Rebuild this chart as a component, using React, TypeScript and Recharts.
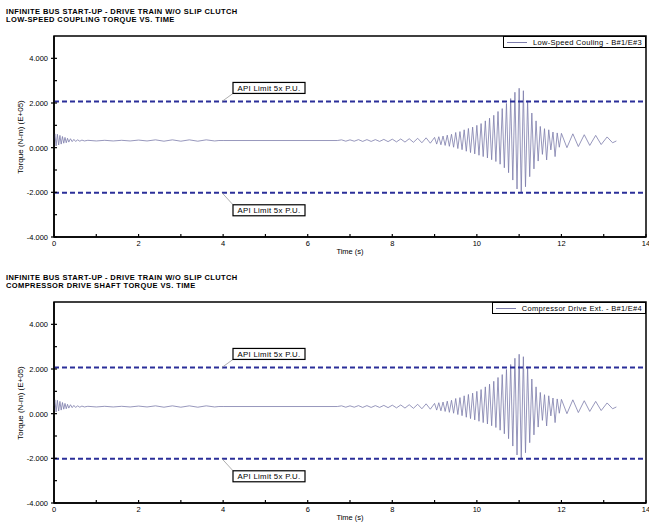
import React from "react";
import { Line, LineChart, ReferenceArea, ReferenceLine, XAxis, YAxis } from "recharts";

type Pt = [number, number];

// torque in E+05 N-m against time in s
const startUp: Pt[] = [
  [0, 0.35], [0.02, 0.62], [0.05, 0.08], [0.08, 0.6], [0.11, 0.12], [0.14, 0.55],
  [0.17, 0.16], [0.2, 0.5], [0.23, 0.2], [0.26, 0.46], [0.29, 0.22], [0.32, 0.42],
  [0.35, 0.25], [0.39, 0.4], [0.43, 0.27], [0.47, 0.37], [0.51, 0.28], [0.56, 0.35],
  [0.61, 0.29], [0.66, 0.34], [0.72, 0.3],
];

const firstRipple: Pt[] = [
  [0.8, 0.33], [1.0, 0.3], [1.2, 0.33], [1.4, 0.3], [1.6, 0.33], [1.8, 0.3],
  [2.0, 0.34], [2.2, 0.3], [2.4, 0.35], [2.6, 0.29], [2.8, 0.35], [3.0, 0.29],
  [3.2, 0.35], [3.4, 0.29], [3.6, 0.35], [3.8, 0.3], [3.9, 0.32],
];

const flatRun: Pt[] = [[4.0, 0.32], [6.7, 0.32]];

const secondRipple: Pt[] = [
  [6.8, 0.35], [6.9, 0.29], [7.0, 0.35], [7.1, 0.29], [7.2, 0.36], [7.3, 0.28],
  [7.4, 0.36], [7.5, 0.28], [7.6, 0.36], [7.7, 0.28], [7.8, 0.37], [7.9, 0.27],
  [8.0, 0.38], [8.1, 0.26], [8.2, 0.39], [8.3, 0.25], [8.4, 0.4], [8.5, 0.24],
  [8.6, 0.42], [8.7, 0.22], [8.8, 0.44], [8.9, 0.2],
];

const burst: Pt[] = [
  [9.0, 0.46], [9.05, 0.16], [9.1, 0.49], [9.15, 0.13], [9.2, 0.52], [9.25, 0.1],
  [9.3, 0.56], [9.35, 0.06], [9.4, 0.6], [9.45, 0.02], [9.5, 0.68], [9.55, -0.04],
  [9.6, 0.72], [9.65, -0.09], [9.7, 0.8], [9.75, -0.16], [9.8, 0.86], [9.85, -0.22],
  [9.9, 0.92], [9.95, -0.28], [10.0, 1.0], [10.05, -0.34], [10.1, 1.08], [10.15, -0.4],
  [10.2, 1.2], [10.25, -0.46], [10.3, 1.32], [10.35, -0.54], [10.4, 1.45], [10.45, -0.62],
  [10.5, 1.62], [10.55, -0.74], [10.6, 1.75], [10.65, -0.9], [10.7, 1.98], [10.75, -1.12],
  [10.8, 2.2], [10.85, -1.45], [10.9, 2.48], [10.95, -1.85], [11.0, 2.66], [11.05, -2.02],
  [11.1, 2.55], [11.15, -1.75], [11.2, 2.1], [11.25, -1.3], [11.3, 1.55], [11.35, -0.95],
  [11.4, 1.2], [11.45, -0.6], [11.5, 0.95], [11.55, -0.3], [11.6, 0.85], [11.65, -0.55],
  [11.7, 0.8], [11.75, -0.1], [11.8, 0.7], [11.85, -0.4], [11.9, 0.66], [11.95, 0.02],
  [12.0, 0.64],
];

const tail: Pt[] = [
  [12.13, 0.0], [12.27, 0.62], [12.4, 0.05], [12.54, 0.58], [12.67, 0.1],
  [12.81, 0.55], [12.94, 0.14], [13.08, 0.48], [13.21, 0.22], [13.3, 0.3],
];

const xTicks = [0, 1, 2, 3, 4, 5, 6, 7, 8, 9, 10, 11, 12, 13, 14];
const yTicks = [-4, -3, -2, -1, 0, 1, 2, 3, 4];
const apiUpper = 2.07;
const apiLower = -2.02;

const title = "INFINITE BUS START-UP - DRIVE TRAIN W/O SLIP CLUTCH";
const panels = [
  { subtitle: "LOW-SPEED COUPLING TORQUE VS. TIME", legend: "Low-Speed Couling - B#1/E#3" },
  { subtitle: "COMPRESSOR DRIVE SHAFT TORQUE VS. TIME", legend: "Compressor Drive Ext. - B#1/E#4" },
];

// both traces look the same at this resolution
const trace = [...startUp, ...firstRipple, ...flatRun, ...secondRipple, ...burst, ...tail].map(
  ([t, v]) => ({ t, v })
);

const FONT = "'Liberation Sans', Arial, sans-serif";
const W = 649;
const H = 266;
const LEFT = 54;
const TOP = 36;
const BOTTOM = 237;
const TRACE = "#7c7cab";
const API = "#2b2f99";

const YTick = (props: any) => {
  const { y, payload } = props;
  const major = payload.value % 2 === 0;
  return (
    <g>
      <line x1={major ? LEFT - 3 : LEFT} x2={LEFT + 3} y1={y} y2={y} stroke="#000" strokeWidth={1.2} />
      {major && (
        <text x={LEFT - 6} y={y + 3} textAnchor="end" fontSize={7.5} fontFamily={FONT} fill="#000">
          {payload.value.toFixed(3)}
        </text>
      )}
    </g>
  );
};

const XTick = (props: any) => {
  const { x, payload } = props;
  const major = payload.value % 2 === 0;
  return (
    <g>
      <line x1={x} x2={x} y1={BOTTOM - 3} y2={BOTTOM} stroke="#000" strokeWidth={1.2} />
      {major && (
        <text x={x} y={BOTTOM + 9} textAnchor="middle" fontSize={7.5} fontFamily={FONT} fill="#000">
          {payload.value}
        </text>
      )}
    </g>
  );
};

const ApiTag = (props: any) => {
  const vb = props.viewBox || { x: 0, y: 0 };
  const up = props.side === "up";
  const x0 = vb.x + 168;
  const y0 = vb.y;
  const bx = x0 + 11;
  const by = up ? y0 - 19 : y0 + 12;
  return (
    <g>
      <line x1={x0} y1={y0} x2={bx} y2={up ? by + 11 : by} stroke="#999" strokeWidth={0.8} />
      <rect x={bx} y={by} width={72} height={11} fill="#fff" stroke="#000" strokeWidth={1.2} />
      <text
        x={bx + 36}
        y={by + 8.5}
        textAnchor="middle"
        fontSize={7.8}
        letterSpacing={0.3}
        fontFamily={FONT}
        fill="#000"
      >
        API Limit 5x P.U.
      </text>
    </g>
  );
};

const TorquePanel = ({ subtitle, legend }: { subtitle: string; legend: string }) => (
  <div style={{ position: "relative", width: W, height: H }}>
    <div
      style={{
        position: "absolute",
        left: 6,
        top: 8,
        fontFamily: FONT,
        fontWeight: "bold",
        fontSize: 7.5,
        letterSpacing: 0.4,
        lineHeight: "8px",
        whiteSpace: "nowrap",
        color: "#000",
      }}
    >
      <div>{title}</div>
      <div>{subtitle}</div>
    </div>
    <div
      style={{
        position: "absolute",
        left: 20,
        top: (TOP + BOTTOM) / 2,
        transform: "translate(-50%, -50%) rotate(-90deg)",
        fontFamily: FONT,
        fontSize: 8,
        whiteSpace: "nowrap",
        color: "#000",
      }}
    >
      Torque (N-m) (E+05)
    </div>
    <LineChart width={W} height={H} data={trace} margin={{ top: TOP, right: 3, bottom: 0, left: 0 }}>
      <XAxis
        type="number"
        dataKey="t"
        domain={[0, 14]}
        ticks={xTicks}
        interval={0}
        height={H - BOTTOM}
        axisLine={{ stroke: "#000", strokeWidth: 1.5 }}
        tickLine={false}
        tick={(p: any) => <XTick {...p} />}
        label={{ value: "Time (s)", position: "insideBottom", offset: 12, fontSize: 7.5, fill: "#000", fontFamily: FONT }}
      />
      <YAxis
        type="number"
        domain={[-4, 5]}
        ticks={yTicks}
        interval={0}
        width={LEFT}
        axisLine={{ stroke: "#000", strokeWidth: 1.5 }}
        tickLine={false}
        tick={(p: any) => <YTick {...p} />}
      />
      <ReferenceArea x1={0} x2={14} y1={-4} y2={5} fill="none" fillOpacity={0} stroke="#000" strokeWidth={1.5} />
      <Line
        type="linear"
        dataKey="v"
        stroke={TRACE}
        strokeWidth={0.8}
        dot={false}
        isAnimationActive={false}
      />
      <ReferenceLine y={apiUpper} stroke={API} strokeWidth={2} strokeDasharray="5 3" label={<ApiTag side="up" />} />
      <ReferenceLine y={apiLower} stroke={API} strokeWidth={2} strokeDasharray="5 3" label={<ApiTag side="down" />} />
    </LineChart>
    <div
      style={{
        position: "absolute",
        right: 3,
        top: TOP,
        display: "flex",
        alignItems: "center",
        height: 10,
        padding: "0 3px",
        border: "1.5px solid #000",
        background: "#fff",
        fontFamily: FONT,
        fontSize: 7.5,
        letterSpacing: 0.3,
        whiteSpace: "nowrap",
        color: "#000",
      }}
    >
      <span style={{ display: "inline-block", width: 20, height: 1, background: TRACE, marginRight: 6 }} />
      {legend}
    </div>
  </div>
);

export default function App() {
  return (
    <div style={{ position: "absolute", left: 0, top: 0, width: W, height: 523, overflow: "hidden", background: "#fff" }}>
      {panels.map((p) => (
        <TorquePanel key={p.legend} subtitle={p.subtitle} legend={p.legend} />
      ))}
    </div>
  );
}
